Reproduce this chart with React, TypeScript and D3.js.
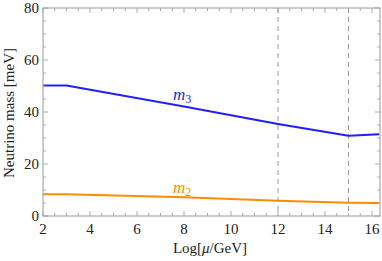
import React from "react";
import * as d3 from "d3";

const W = 382;
const H = 261;

const logMu = [2, 3, 8, 12, 15, 16.3];
const m3 = [50.2, 50.2, 42.1, 35.4, 30.9, 31.4];
const m2 = [8.4, 8.4, 7.2, 5.9, 5.1, 5.0];
const xTicks = [2, 4, 6, 8, 10, 12, 14, 16];
const yTicks = [0, 20, 40, 60, 80];
const thresholds = [12, 15];

const serif = { fontFamily: "Liberation Serif, DejaVu Serif, serif" };

export default function App() {
  const x = d3.scaleLinear().domain([2, 16.34]).range([43, 380]);
  const y = d3.scaleLinear().domain([0, 80]).range([216, 8]);

  const line = d3
    .line<number>()
    .x((_, i) => x(logMu[i]))
    .y((d) => y(d));

  const xMinor = d3.range(2, 16.34, 0.5);
  const yMinor = d3.range(0, 80.01, 5);

  return (
    <svg width={W} height={H} style={{ position: "absolute", left: 0, top: 0 }}>
      {thresholds.map((t) => (
        <line key={t} x1={x(t)} x2={x(t)} y1={y(80)} y2={y(0)} stroke="#999" strokeWidth={1} strokeDasharray="5,4" />
      ))}
      <path d={line(m3) || ""} fill="none" stroke="#1f1fff" strokeWidth={2} />
      <path d={line(m2) || ""} fill="none" stroke="#ff8c00" strokeWidth={2} />

      {/* frame + ticks */}
      <rect x={x(2)} y={y(80)} width={x(16.34) - x(2)} height={y(0) - y(80)} fill="none" stroke="#999" strokeWidth={1} />
      {xMinor.map((v) => {
        const len = v % 2 === 0 ? 5 : 3;
        return (
          <g key={"x" + v} stroke="#999" strokeWidth={0.8}>
            <line x1={x(v)} x2={x(v)} y1={y(0)} y2={y(0) - len} />
            <line x1={x(v)} x2={x(v)} y1={y(80)} y2={y(80) + len} />
          </g>
        );
      })}
      {yMinor.map((v) => {
        const len = v % 20 === 0 ? 5 : 3;
        return (
          <g key={"y" + v} stroke="#999" strokeWidth={0.8}>
            <line x1={x(2)} x2={x(2) + len} y1={y(v)} y2={y(v)} />
            <line x1={x(16.34)} x2={x(16.34) - len} y1={y(v)} y2={y(v)} />
          </g>
        );
      })}

      {xTicks.map((v) => (
        <text key={"xt" + v} x={x(v)} y={234} fontSize={15} textAnchor="middle" fill="#222" style={serif}>
          {v}
        </text>
      ))}
      {yTicks.map((v) => (
        <text key={"yt" + v} x={39} y={y(v) + 5} fontSize={15} textAnchor="end" fill="#222" style={serif}>
          {v}
        </text>
      ))}

      <text x={210} y={253} fontSize={15} textAnchor="middle" fill="#222" style={serif}>
        Log[<tspan fontStyle="italic">μ</tspan>/GeV]
      </text>
      <text transform="translate(14,113) rotate(-90)" fontSize={15} textAnchor="middle" fill="#222" style={serif}>
        Neutrino mass [meV]
      </text>

      <text x={173} y={100} fontSize={17} fill="#1f1fff" fontStyle="italic" style={serif}>
        m<tspan fontStyle="normal" fontSize={12} dy={3}>3</tspan>
      </text>
      <text x={173} y={193} fontSize={17} fill="#ff8c00" fontStyle="italic" style={serif}>
        m<tspan fontStyle="normal" fontSize={12} dy={3}>2</tspan>
      </text>
    </svg>
  );
}
